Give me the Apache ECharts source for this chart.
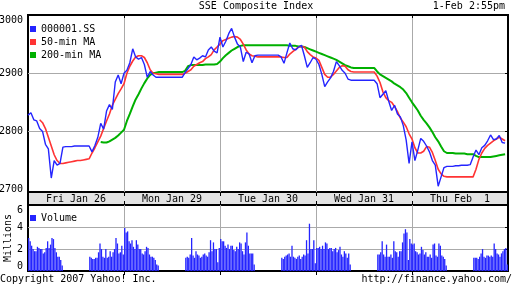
<!DOCTYPE html>
<html><head><meta charset="utf-8">
<script src="https://cdn.jsdelivr.net/npm/echarts@6/dist/echarts.min.js"></script>
<style>html,body{margin:0;padding:0;background:#fff}#c{width:512px;height:288px}</style>
</head><body><div id="c"></div>
<script>
// ---- data (trading minutes: 330 per day, 09:30-11:30 & 13:00-15:00, lunch kept flat) ----
const dayLabels = ['Fri Jan 26', 'Mon Jan 29', 'Tue Jan 30', 'Wed Jan 31', 'Thu Feb  1'];
const priceTicks = [2700, 2800, 2900, 3000];
const volumeTicks = [0, 2, 4, 6];
const STEP = 10; // minutes between price samples

const price = [
  2828,2832,2820,2818,2805,2800,2778,2770,2720,2750,2742,2745,2773,
  2774,2774,2774,2775,2775,2775,2775,2775,
  2775,2765,2776,2790,2814,2804,2835,2846,2838,2885,2897,2882,
  2900,2905,2918,2942,2928,2924,2927,2915,2893,2903,2897,2893,2893,
  2893,2893,2893,2893,2893,2893,2893,2893,
  2901,2908,2915,2928,2923,2926,2930,2928,2940,2945,2938,2935,
  2962,2945,2955,2968,2977,2962,2950,2945,2920,2936,2933,2918,2930,
  2931,2931,2931,2931,2931,2931,2931,2931,
  2928,2917,2935,2952,2942,2940,2945,2948,2930,2910,2918,2927,
  2924,2915,2898,2877,2885,2892,2903,2920,2913,2905,2900,2890,2888,
  2888,2888,2888,2888,2888,2888,2888,2888,
  2882,2858,2864,2870,2852,2836,2845,2830,2825,2810,2785,2745,
  2782,2750,2768,2788,2783,2775,2765,2750,2742,2706,2722,2738,2740,
  2740,2740,2741,2741,2742,2742,2742,2743,
  2756,2768,2760,2772,2776,2784,2794,2786,2787,2793,2781,2780
];
const ma50 = [
  null,null,null,null,2820,2815,2805,2790,2775,2760,2750,2745,2745,
  2746,2747,2748,2749,2750,2750,2751,2752,
  2753,2763,2772,2782,2792,2805,2818,2830,2845,2855,2865,2873,
  2882,2900,2912,2921,2928,2930,2930,2927,2918,2906,2900,2899,2898,
  2898,2898,2898,2898,2898,2898,2898,2898,
  2900,2903,2906,2912,2915,2918,2920,2925,2928,2932,2940,2945,
  2950,2956,2958,2960,2962,2963,2962,2958,2950,2940,2933,2930,2929,
  2928,2928,2928,2928,2928,2928,2928,2928,
  2928,2927,2927,2933,2937,2941,2945,2946,2945,2937,2932,2928,
  2926,2922,2910,2898,2893,2893,2898,2904,2910,2913,2912,2906,2903,
  2902,2902,2902,2902,2902,2902,2902,2902,
  2895,2884,2868,2858,2853,2850,2843,2834,2823,2816,2808,2796,
  2787,2772,2763,2763,2766,2774,2773,2764,2750,2735,2727,2723,2722,
  2722,2722,2722,2722,2722,2722,2722,2722,
  2722,2735,2752,2763,2771,2776,2780,2784,2787,2790,2787,2784
];
const ma200 = [
  null,null,null,null,null,null,null,null,null,null,null,null,null,
  null,null,null,null,null,null,null,null,
  null,null,null,null,2782,2781,2781,2783,2786,2789,2793,2798,
  2803,2818,2830,2843,2855,2864,2874,2883,2891,2897,2900,2901,2902,
  2902,2902,2902,2902,2902,2902,2902,2902,
  2904,2912,2914,2914,2914,2914,2914,2915,2915,2915,2915,2916,
  2920,2926,2931,2935,2939,2942,2945,2947,2948,2948,2948,2948,2948,
  2948,2948,2948,2948,2948,2948,2948,2948,
  2948,2948,2948,2947,2947,2947,2946,2946,2945,2943,2941,2939,
  2937,2935,2933,2931,2929,2927,2925,2923,2920,2917,2914,2912,2910,
  2909,2909,2909,2909,2909,2909,2909,2909,
  2903,2898,2895,2892,2889,2886,2882,2879,2876,2872,2866,2858,
  2850,2843,2836,2827,2820,2814,2807,2799,2790,2783,2774,2766,2763,
  2763,2763,2762,2762,2762,2762,2761,2761,
  2761,2758,2756,2756,2756,2756,2756,2757,2758,2759,2760,2761
];
// volume in millions, 24 five-minute bars per session: [day][0=AM,1=PM]
const volume = [
  [[3.0,2.7,2.3,2.0,1.8,1.8,2.2,2.1,2.0,2.0,1.6,1.7,2.1,2.7,2.1,2.4,3.0,2.9,2.1,1.7,1.3,1.3,1.0,0.5],
   [1.3,1.2,1.1,1.1,1.2,1.2,1.7,2.5,2.0,1.3,1.2,2.0,1.2,1.3,1.8,1.3,1.7,2.0,3.0,2.5,1.6,1.7,2.3,1.5]],
  [[3.9,3.5,3.6,2.7,2.5,2.8,2.2,2.0,2.8,2.4,2.0,2.0,1.6,1.5,1.8,2.2,2.1,1.5,1.3,1.3,1.2,1.0,0.6,0.5],
   [1.2,1.3,1.2,1.5,3.0,1.4,1.2,1.8,1.5,1.4,1.2,1.3,1.5,1.6,1.4,1.3,1.7,2.8,1.8,2.6,2.0,2.0,0.8,2.1]],
  [[2.9,2.7,2.7,2.3,2.1,2.4,2.0,2.3,2.3,1.9,1.8,2.2,2.0,2.6,2.5,1.8,1.5,2.6,3.5,2.3,1.6,1.6,1.6,0.6],
   [1.2,1.1,1.3,1.4,1.5,1.6,1.3,2.3,1.3,1.2,1.1,1.3,1.4,1.1,1.3,1.5,1.4,2.8,1.6,4.3,2.0,2.0,2.8,0.7]],
  [[2.1,2.1,2.2,2.0,2.3,2.0,2.6,2.5,2.0,2.1,2.1,1.8,2.0,2.1,1.7,1.9,2.2,1.5,1.3,1.8,1.6,1.2,1.6,0.6],
   [1.5,1.5,1.7,2.7,1.5,1.3,2.4,1.3,1.3,1.5,1.2,2.7,1.8,1.7,1.3,1.8,1.8,2.6,3.4,3.8,3.5,1.0,2.9,2.5]],
  [[2.4,2.5,1.8,1.7,1.5,1.6,2.2,1.9,1.5,1.7,1.3,1.3,1.5,1.2,2.4,2.5,1.4,1.3,2.5,2.3,1.4,1.3,1.1,0.5],
   [1.2,1.2,1.2,1.1,1.3,1.6,2.0,1.3,1.2,1.4,1.4,1.3,1.4,1.3,2.5,2.0,1.6,1.5,1.3,1.6,1.8,2.0,2.1,0.6]]
];

// ---- build ----
const DAY = 330, PM_START = 210, BAR = 5;
const toPairs = arr => arr.map((v, i) => [i * STEP, v]).filter(p => p[1] !== null);
const volPairs = [];
volume.forEach((day, d) => day.forEach((sess, s) => sess.forEach((v, k) => {
  volPairs.push([d * DAY + (s ? PM_START : 0) + k * BAR + BAR / 2, v]);
})));
const boundaries = dayLabels.slice(1).map((_, i) => (i + 1) * DAY);
const centers = dayLabels.map((_, i) => i * DAY + DAY / 2);

const FONT = 'DejaVu Sans Mono';
const txt = {fontFamily: FONT, fontSize: 10, color: '#000', fontWeight: 'normal'};
const GRIDC = '#aaaaaa';
const BLUE = '#2424ff', RED = '#ff3333', GREEN = '#00b000';
const plain = v => String(v);

const xBase = {type: 'value', min: 0, max: DAY * dayLabels.length, axisLine: {show: false},
  axisLabel: {show: false}, splitLine: {show: false}};
const yHidden = {type: 'value', min: 0, max: 1, show: false};
const gridBase = {left: 28, width: 480, show: true, borderColor: '#000', borderWidth: 2,
  containLabel: false, outerBoundsMode: 'none'};

const chart = echarts.init(document.getElementById('c'), null, {renderer: 'canvas'});
chart.setOption({
  animation: false,
  backgroundColor: '#fff',
  textStyle: txt,
  title: [
    {text: 'SSE Composite Index', left: 'center', top: 1, padding: 0, textStyle: txt},
    {text: '1-Feb 2:55pm', right: 7, top: 1, padding: 0, textStyle: txt},
    {text: 'Copyright 2007 Yahoo! Inc.', left: 0, top: 274, padding: 0, textStyle: txt},
    {text: 'http://finance.yahoo.com/', right: 0, top: 274, padding: 0, textStyle: txt}
  ],
  legend: [
    {orient: 'vertical', left: 30, top: 24, padding: 0, itemWidth: 6, itemHeight: 6, itemGap: 3,
     icon: 'rect', data: ['000001.SS', '50-min MA', '200-min MA'], textStyle: txt, selectedMode: false},
    {orient: 'vertical', left: 30, top: 213, padding: 0, itemWidth: 6, itemHeight: 6,
     icon: 'rect', data: ['Volume'], textStyle: txt, selectedMode: false}
  ],
  grid: [
    Object.assign({}, gridBase, {top: 15, height: 177, backgroundColor: '#fff'}),
    Object.assign({}, gridBase, {top: 192, height: 13, backgroundColor: '#e3e3e3'}),
    Object.assign({}, gridBase, {top: 205, height: 66, backgroundColor: 'rgba(0,0,0,0)'})
  ],
  xAxis: [
    Object.assign({}, xBase, {gridIndex: 0, position: 'top',
      axisTick: {show: true, inside: true, length: 3, customValues: boundaries, lineStyle: {color: '#000'}},
      splitLine: {show: true, lineStyle: {color: GRIDC, width: 1}}}),
    Object.assign({}, xBase, {gridIndex: 1, position: 'bottom',
      axisTick: {show: true, inside: true, length: 4, customValues: boundaries, lineStyle: {color: '#000'}}}),
    Object.assign({}, xBase, {gridIndex: 1, position: 'top',
      axisTick: {show: true, inside: true, length: 4, customValues: boundaries, lineStyle: {color: '#000'}},
      axisLabel: {show: true, inside: true, margin: 2, customValues: centers, fontFamily: FONT, fontSize: 10, color: '#000',
        formatter: v => dayLabels[Math.round((v - DAY / 2) / DAY)]}}),
    Object.assign({}, xBase, {gridIndex: 2, position: 'top',
      axisTick: {show: true, inside: true, length: 4, customValues: boundaries, lineStyle: {color: '#000'}},
      splitLine: {show: true, lineStyle: {color: GRIDC, width: 1}}})
  ],
  yAxis: [
    {type: 'value', gridIndex: 0, position: 'left', min: 2696, max: 3000, axisLine: {show: false},
     axisTick: {show: false, customValues: [2800, 2900]},
     axisLabel: {customValues: priceTicks, formatter: plain, margin: 5, fontFamily: FONT, fontSize: 10, color: '#000', verticalAlignMaxLabel: 'top'},
     splitLine: {show: true, lineStyle: {color: GRIDC, width: 1}}},
    {type: 'value', gridIndex: 0, position: 'right', min: 2696, max: 3000, axisLine: {show: false},
     axisTick: {show: true, inside: true, length: 3, customValues: [2800, 2900], lineStyle: {color: '#000'}},
     axisLabel: {show: false}, splitLine: {show: false}},
    {type: 'value', gridIndex: 2, position: 'left', min: 0, max: 6, axisLine: {show: false},
     axisTick: {show: false, customValues: [2, 4]},
     axisLabel: {customValues: volumeTicks, formatter: plain, margin: 5, fontFamily: FONT, fontSize: 10, color: '#000',
       verticalAlignMaxLabel: 'top', verticalAlignMinLabel: 'bottom'},
     splitLine: {show: true, lineStyle: {color: GRIDC, width: 1}},
     name: 'Millions', nameLocation: 'middle', nameRotate: 90, nameGap: 15, nameMoveOverlap: false,
     nameTextStyle: {fontFamily: FONT, fontSize: 10, color: '#000'}},
    {type: 'value', gridIndex: 2, position: 'right', min: 0, max: 6, axisLine: {show: false},
     axisTick: {show: true, inside: true, length: 3, customValues: [2, 4], lineStyle: {color: '#000'}},
     axisLabel: {show: false}, splitLine: {show: false}},
    Object.assign({}, yHidden, {gridIndex: 1})
  ],
  series: [
    {name: '200-min MA', type: 'line', xAxisIndex: 0, yAxisIndex: 0, data: toPairs(ma200), showSymbol: false,
     lineStyle: {color: GREEN, width: 2}, itemStyle: {color: GREEN}},
    {name: '50-min MA', type: 'line', xAxisIndex: 0, yAxisIndex: 0, data: toPairs(ma50), showSymbol: false,
     lineStyle: {color: RED, width: 1.6}, itemStyle: {color: RED}},
    {name: '000001.SS', type: 'line', xAxisIndex: 0, yAxisIndex: 0, data: toPairs(price), showSymbol: false,
     lineStyle: {color: BLUE, width: 1.4}, itemStyle: {color: BLUE}},
    {name: 'Volume', type: 'bar', xAxisIndex: 3, yAxisIndex: 2, data: volPairs, barWidth: 1.3,
     itemStyle: {color: BLUE}}
  ]
});
</script></body></html>
